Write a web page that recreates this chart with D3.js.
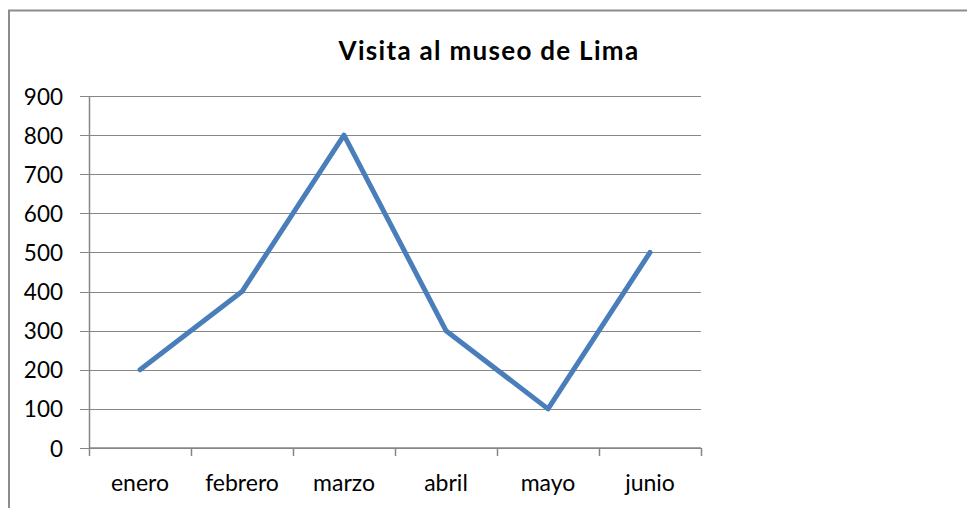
<!DOCTYPE html>
<html>
<head>
<meta charset="utf-8">
<script src="https://cdn.jsdelivr.net/npm/d3@7"></script>
<style>
  html, body { margin: 0; padding: 0; background: #fff; }
  svg { display: block; }
</style>
</head>
<body>
<svg id="chart" width="967" height="508"></svg>
<script>
const title = "Visita al museo de Lima";
const categories = ["enero", "febrero", "marzo", "abril", "mayo", "junio"];
const values = [200, 400, 800, 300, 100, 500];
const yTicks = [0, 100, 200, 300, 400, 500, 600, 700, 800, 900];

const svg = d3.select("#chart");
const font = "Lato, 'Open Sans', sans-serif";

// outer border
svg.append("rect")
  .attr("x", 9).attr("y", 10.5)
  .attr("width", 1000).attr("height", 600)
  .attr("fill", "none").attr("stroke", "#8c8c8c").attr("stroke-width", 2);

const pLeft = 89, pRight = 701, pTop = 96, pBottom = 448;

const x = d3.scaleBand().domain(categories).range([pLeft, pRight]);
const y = d3.scaleLinear().domain([0, 900]).range([pBottom, pTop]);

// gridlines + y labels
const yAxis = d3.axisLeft(y).tickValues(yTicks).tickSize(-(pRight - pLeft)).tickPadding(26);
const gy = svg.append("g").attr("transform", `translate(${pLeft},0)`).call(yAxis);
gy.select(".domain").remove();
gy.selectAll(".tick line").attr("stroke", "#868686").attr("stroke-width", 1)
  .attr("x1", -9).attr("shape-rendering", "crispEdges");
gy.selectAll(".tick text").attr("font-family", font).attr("font-size", 22.5)
  .attr("fill", "#000").attr("dy", "0.36em");

// y axis line
svg.append("line").attr("x1", pLeft + 0.5).attr("x2", pLeft + 0.5)
  .attr("y1", pTop).attr("y2", pBottom)
  .attr("stroke", "#868686").attr("stroke-width", 1.5);

// x axis
const xAxis = d3.axisBottom(x).tickSize(0).tickPadding(27);
const gx = svg.append("g").attr("transform", `translate(0,${pBottom})`).call(xAxis);
gx.select(".domain").attr("stroke", "#868686").attr("stroke-width", 1.5).attr("d", `M${pLeft},0H${pRight}`);
gx.selectAll(".tick text").attr("font-family", font).attr("font-size", 23).attr("fill", "#000");

// category boundary ticks
const bounds = categories.map(c => x(c)).concat([x(categories[categories.length - 1]) + x.bandwidth()]);
gx.selectAll(".bound").data(bounds).enter().append("line")
  .attr("class", "bound")
  .attr("x1", d => d + 0.5).attr("x2", d => d + 0.5)
  .attr("y1", 0).attr("y2", 8)
  .attr("stroke", "#868686").attr("stroke-width", 1.5);

// line
const line = d3.line()
  .x((d, i) => x(categories[i]) + x.bandwidth() / 2)
  .y(d => y(d));
svg.append("path").datum(values)
  .attr("d", line)
  .attr("fill", "none")
  .attr("stroke", "#4a7ebb")
  .attr("stroke-width", 5)
  .attr("stroke-linejoin", "round")
  .attr("stroke-linecap", "round");

// title
svg.append("text")
  .attr("x", 489).attr("y", 60)
  .attr("text-anchor", "middle")
  .attr("font-family", font).attr("font-weight", "bold").attr("font-size", 26)
  .attr("letter-spacing", 1.3)
  .attr("fill", "#000")
  .text(title);
</script>
</body>
</html>
